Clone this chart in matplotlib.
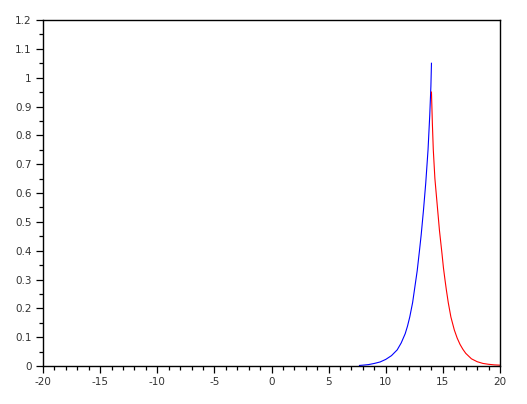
import numpy as np
import matplotlib.pyplot as plt
from matplotlib.ticker import MultipleLocator

# valeurs
x_bleu = [7.7, 8.0, 8.5, 9.0, 9.5, 10.0, 10.5, 11.0, 11.35, 11.7, 11.9, 12.1, 12.35, 12.55,
          12.75, 12.95, 13.1, 13.3, 13.5, 13.7, 13.85, 13.95, 14.0]
y_bleu = [0.002, 0.003, 0.005, 0.009, 0.014, 0.023, 0.036, 0.056, 0.08, 0.112, 0.138, 0.17,
          0.22, 0.275, 0.33, 0.40, 0.455, 0.54, 0.635, 0.75, 0.87, 0.97, 1.05]

x_rouge = [14.0, 14.08, 14.16, 14.3, 14.5, 14.7, 14.92, 15.05, 15.18, 15.3, 15.47, 15.7, 16.0,
           16.25, 16.5, 16.75, 17.0, 17.5, 18.0, 18.5, 19.0, 19.5, 20.0]
y_rouge = [0.95, 0.84, 0.75, 0.65, 0.56, 0.47, 0.39, 0.34, 0.30, 0.265, 0.22, 0.17, 0.125,
           0.097, 0.075, 0.058, 0.044, 0.025, 0.015, 0.009, 0.006, 0.004, 0.003]

fig = plt.figure(figsize=(5.27, 4.04), dpi=100)
ax = fig.add_axes([0.0816, 0.094, 0.8672, 0.8565])

ax.plot(x_bleu, y_bleu, color='blue', lw=0.8)
ax.plot(x_rouge, y_rouge, color='red', lw=0.8)

ax.set_xlim(-20, 20)
ax.set_ylim(0, 1.2)
ax.xaxis.set_minor_locator(MultipleLocator(1))
ax.yaxis.set_minor_locator(MultipleLocator(0.05))

ax.set_xticks(np.arange(-20, 21, 5))
ax.set_xticklabels([str(v) for v in range(-20, 21, 5)])
yt = np.round(np.arange(0, 1.21, 0.1), 1)
ax.set_yticks(yt)
ax.set_yticklabels(['0' if v == 0 else ('1' if v == 1 else f'{v:g}') for v in yt])

for s in ax.spines.values():
    s.set_linewidth(1.0)
    s.set_color('black')
ax.tick_params(which='major', direction='out', length=5, width=0.9, labelsize=7.5,
               colors='black', labelcolor='#333333', pad=3)
ax.tick_params(which='minor', direction='out', length=3, width=0.9)
ax.tick_params(top=False, right=False, which='both')

fig.savefig('out.png', dpi=100)
